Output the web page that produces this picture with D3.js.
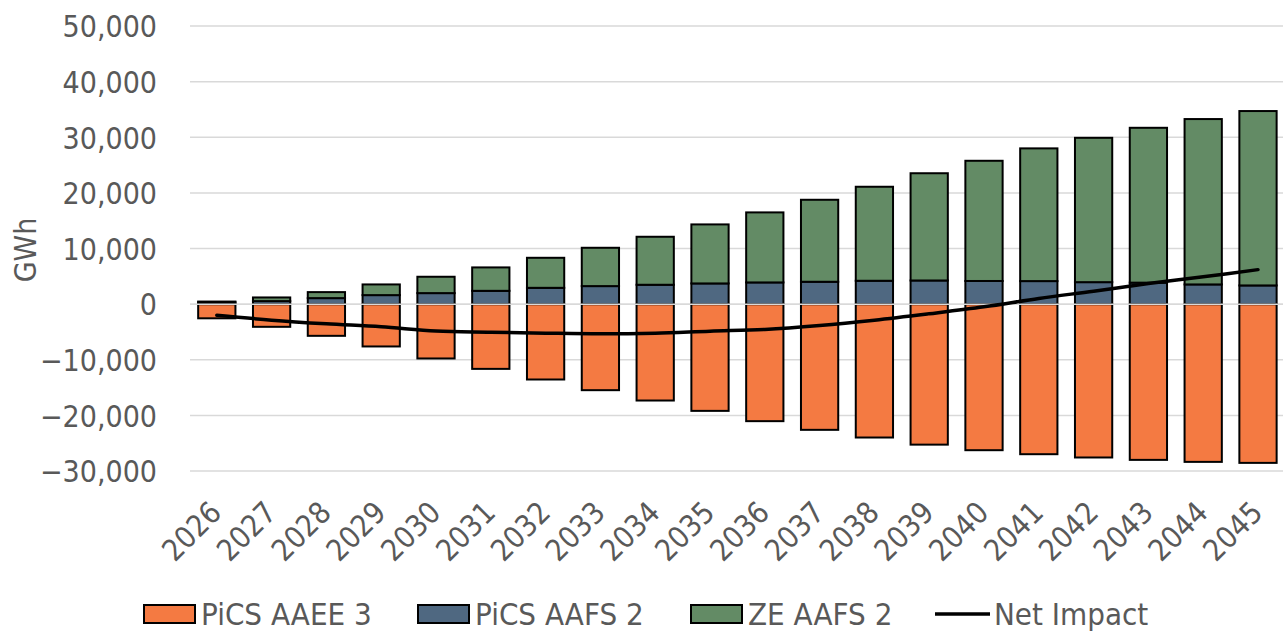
<!DOCTYPE html>
<html>
<head>
<meta charset="utf-8">
<script src="https://cdn.jsdelivr.net/npm/d3@7/dist/d3.min.js"></script>
<style>
  html, body { margin: 0; padding: 0; background: #fff; }
  svg { display: block; }
  text { font-family: 'DejaVu Sans Condensed', 'DejaVu Sans', sans-serif; font-stretch: condensed; fill: #595959; }
</style>
</head>
<body>
<svg id="chart" width="1283" height="633"></svg>
<script>
// Annual energy impacts, GWh
const years = ["2026","2027","2028","2029","2030","2031","2032","2033","2034","2035",
               "2036","2037","2038","2039","2040","2041","2042","2043","2044","2045"];
const picsAAEE3 = [-2550,-4080,-5700,-7610,-9770,-11640,-13550,-15470,-17330,-19190,
                   -21040,-22600,-23980,-25260,-26260,-26980,-27570,-28000,-28360,-28540];
const picsAAFS2 = [330,540,1080,1620,1980,2390,2930,3240,3480,3720,
                   3900,4020,4200,4250,4160,4140,3950,3860,3540,3360];
const zeAAFS2   = [130,660,1080,1920,2940,4210,5400,6890,8630,10610,
                   12590,14740,16900,19280,21610,23860,25950,27840,29730,31350];
const netImpact = [-2000,-2880,-3540,-4070,-4850,-5040,-5220,-5340,-5220,-4860,
                   -4550,-3840,-2880,-1730,-490,1020,2330,3700,4910,6200];
const yTicks = [-30000,-20000,-10000,0,10000,20000,30000,40000,50000];

const seriesNames = ["PiCS AAEE 3","PiCS AAFS 2","ZE AAFS 2"];
const seriesColors = ["#F47A42","#4F6881","#638B65"];
const lineName = "Net Impact";

const rows = years.map((y, i) => ({
  year: y,
  "PiCS AAEE 3": picsAAEE3[i],
  "PiCS AAFS 2": picsAAFS2[i],
  "ZE AAFS 2": zeAAFS2[i],
  net: netImpact[i]
}));

const svg = d3.select("#chart");
const plotLeft = 189.4, plotRight = 1285.4, plotTop = 26, plotBottom = 471;

const x = d3.scaleBand().domain(years).range([plotLeft, plotRight])
  .paddingInner(0.32).paddingOuter(0.16);
const y = d3.scaleLinear().domain([-30000, 50000]).range([plotBottom, plotTop]);

// horizontal gridlines
svg.append("g").selectAll("line").data(yTicks).join("line")
  .attr("x1", 190).attr("x2", 1283)
  .attr("y1", d => y(d)).attr("y2", d => y(d))
  .attr("stroke", "#D9D9D9").attr("stroke-width", 1.5);

// value axis labels
const yAxis = svg.append("g").attr("transform", "translate(157,0)")
  .call(d3.axisLeft(y).tickValues(yTicks).tickSize(0).tickPadding(0).tickFormat(d3.format(",")));
yAxis.select(".domain").remove();
yAxis.selectAll("text")
  .attr("font-size", 30).attr("fill", "#595959")
  .attr("font-family", null)
  .attr("dy", "0.36em");

// axis title
svg.append("text")
  .attr("transform", "translate(36,250) rotate(-90)")
  .attr("text-anchor", "middle")
  .attr("font-size", 30)
  .text("GWh");

// stacked bars
const stack = d3.stack().keys(seriesNames).offset(d3.stackOffsetDiverging);
const stacked = stack(rows);

svg.append("g").selectAll("g").data(stacked).join("g")
  .attr("fill", (d, i) => seriesColors[i])
  .selectAll("rect").data(d => d).join("rect")
  .attr("x", d => x(d.data.year))
  .attr("width", x.bandwidth())
  .attr("y", d => y(Math.max(d[0], d[1])))
  .attr("height", d => Math.abs(y(d[0]) - y(d[1])))
  .attr("stroke", "#000").attr("stroke-width", 2);

// zero line drawn over the bars
svg.append("line")
  .attr("x1", 190).attr("x2", 1283)
  .attr("y1", y(0)).attr("y2", y(0))
  .attr("stroke", "#D9D9D9").attr("stroke-width", 1.5);

// net impact line
const line = d3.line()
  .x(d => x(d.year) + x.bandwidth() / 2)
  .y(d => y(d.net))
  .curve(d3.curveCatmullRom.alpha(0.5));
svg.append("path").datum(rows)
  .attr("d", line)
  .attr("fill", "none").attr("stroke", "#000").attr("stroke-width", 3.5)
  .attr("stroke-linecap", "round");

// category labels, rotated
const xAxis = svg.append("g").attr("transform", `translate(0,${plotBottom})`)
  .call(d3.axisBottom(x).tickSize(0).tickPadding(0));
xAxis.select(".domain").remove();
xAxis.selectAll("text")
  .attr("font-size", 30).attr("fill", "#595959")
  .attr("font-family", null)
  .attr("text-anchor", "end")
  .attr("dy", null).attr("y", 0)
  .attr("transform", "translate(-1,36) rotate(-45)")
  .attr("dominant-baseline", "central");

// legend
const legendItems = [
  { name: seriesNames[0], type: "rect", color: seriesColors[0], x: 144 },
  { name: seriesNames[1], type: "rect", color: seriesColors[1], x: 418 },
  { name: seriesNames[2], type: "rect", color: seriesColors[2], x: 691 },
  { name: lineName, type: "line", color: "#000", x: 935 }
];
const legend = svg.append("g");
const lg = legend.selectAll("g").data(legendItems).join("g")
  .attr("transform", d => `translate(${d.x},614)`);
lg.filter(d => d.type === "rect").append("rect")
  .attr("x", 0).attr("y", -9).attr("width", 51).attr("height", 18)
  .attr("fill", d => d.color).attr("stroke", "#000").attr("stroke-width", 2);
lg.filter(d => d.type === "line").append("line")
  .attr("x1", 0).attr("x2", 55).attr("y1", 0).attr("y2", 0)
  .attr("stroke", "#000").attr("stroke-width", 3.5);
lg.append("text")
  .attr("x", d => d.type === "line" ? 59 : 57)
  .attr("y", 0).attr("dy", "0.36em")
  .attr("font-size", 31)
  .text(d => d.name);
</script>
</body>
</html>
